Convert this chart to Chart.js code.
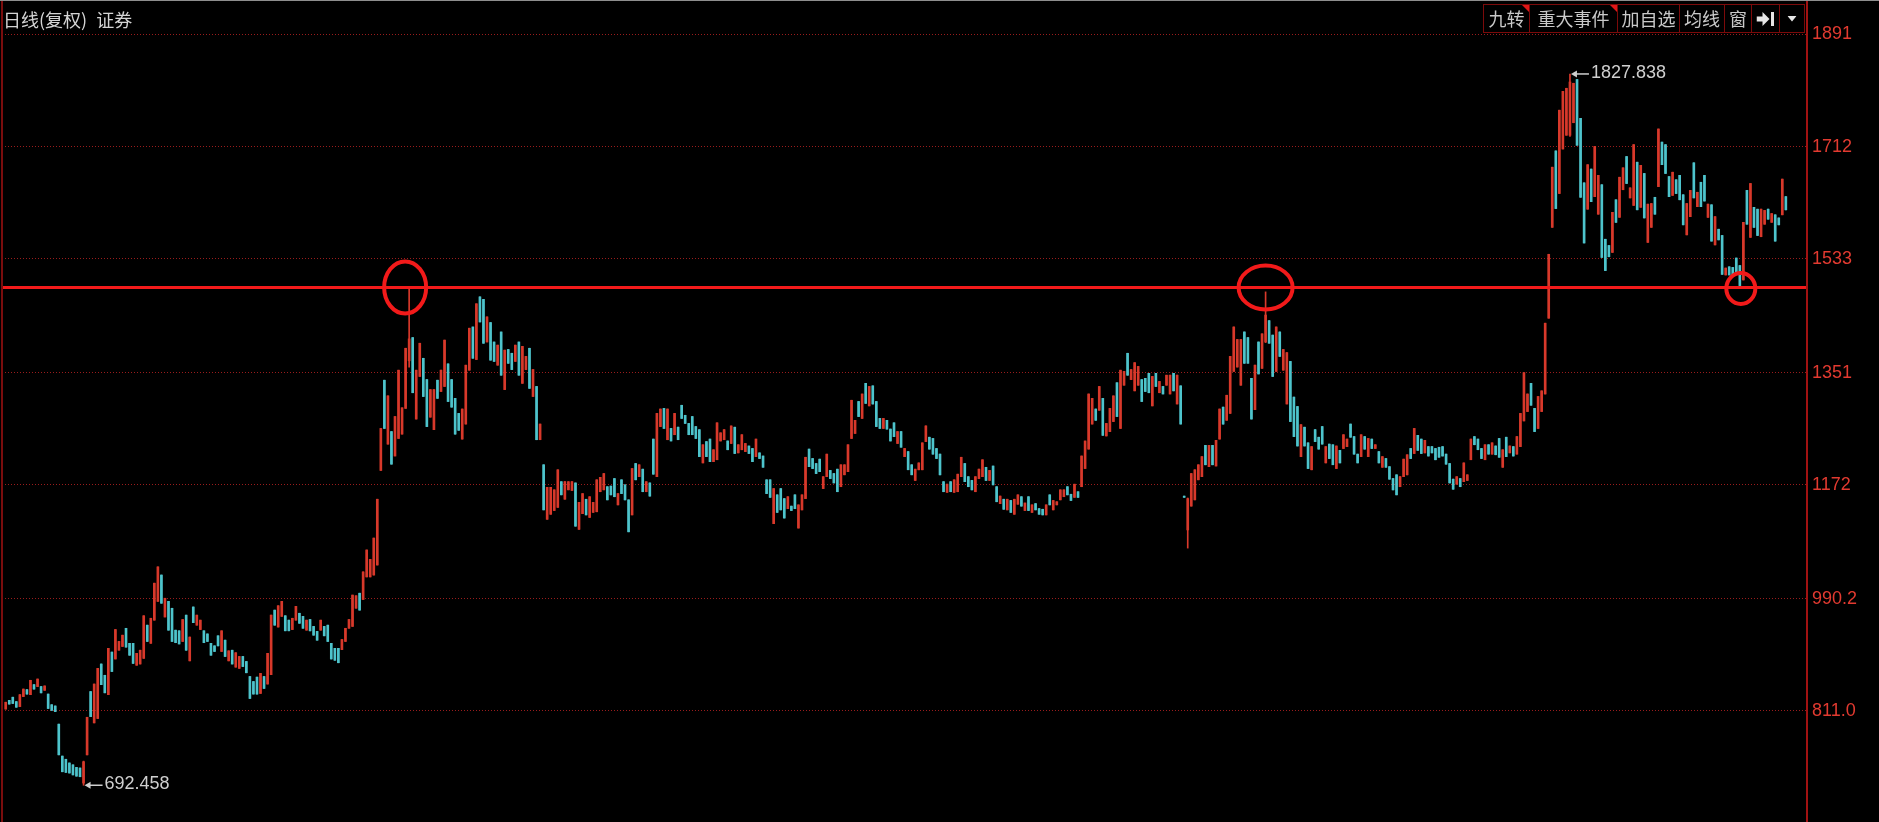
<!DOCTYPE html>
<html lang="zh-CN">
<head>
<meta charset="utf-8">
<title>日线(复权) 证券</title>
<script src="https://cdn.jsdelivr.net/npm/chart.js@4.4.1/dist/chart.umd.min.js"></script>
<style>
html,body{margin:0;padding:0;background:#000;overflow:hidden;}
#wrap{position:relative;width:1879px;height:822px;background:#000;}
#c{position:absolute;left:0;top:0;}
#topline{position:absolute;left:0;top:0;width:1879px;height:1px;background:#8e8e8e;}
#title{position:absolute;left:3px;top:9px;font:18px/20px "Noto Sans CJK SC",sans-serif;color:#d4d4d4;white-space:nowrap;}
#title .sec{margin-left:9px;}
#toolbar{position:absolute;left:1483px;top:4px;height:27px;display:flex;border:1px solid #7c0a0a;}
.btn{position:relative;height:27px;border-right:1px solid #7c0a0a;color:#c9c9c9;font:18px/27px "Noto Sans CJK SC",sans-serif;text-align:center;box-sizing:border-box;}
.btn:last-child{border-right:none;}
.flag::after{content:"";position:absolute;right:0;top:0;border-top:7px solid #e01818;border-left:7px solid transparent;}
.btn svg{position:absolute;left:50%;top:50%;transform:translate(-50%,-50%);}
</style>
</head>
<body>
<div id="wrap">
  <canvas id="c" width="1879" height="822"></canvas>
  <div id="topline"></div>
  <div id="title">日线(复权)<span class="sec">证券</span></div>
  <div id="toolbar">
    <div class="btn flag" style="width:46px">九转</div>
    <div class="btn flag" style="width:88px">重大事件</div>
    <div class="btn" style="width:62px">加自选</div>
    <div class="btn" style="width:45px">均线</div>
    <div class="btn" style="width:27px">窗</div>
    <div class="btn" style="width:28px"><svg width="19" height="14" viewBox="0 0 19 14"><rect x="0" y="4.5" width="7" height="5" fill="#e6e6e6"/><polygon points="6,0 13,7 6,14" fill="#e6e6e6"/><rect x="14.5" y="0" width="3" height="14" fill="#e6e6e6"/></svg></div>
    <div class="btn" style="width:24px"><svg width="9" height="6" viewBox="0 0 9 6"><polygon points="0,0 9,0 4.5,5.5" fill="#e6e6e6"/></svg></div>
  </div>
</div>
<script>
// ---- data, one entry per trading day ----
const openP = [
814,828,833,826,818,834,845,837,853,850,
850,844,838,821,819,790,739,734,728,725,
721,720,696,741,842,792,799,886,868,837,
905,894,908,914,943,919,919,884,886,895,
948,919,956,986,1028,961,986,975,940,939,
922,964,891,977,948,941,939,934,919,915,
931,906,924,891,908,881,879,898,890,866,
858,865,839,866,854,869,972,945,962,963,
956,941,956,967,962,940,957,946,938,940,
946,948,919,911,911,909,922,943,946,975,
999,989,1025,1025,1028,1044,1195,1339,1237,1257,
1218,1246,1253,1294,1370,1407,1277,1345,1374,1340,
1280,1260,1339,1321,1329,1365,1340,1310,1286,1245,
1269,1355,1424,1372,1472,1468,1400,1431,1400,1363,
1416,1324,1388,1382,1369,1400,1334,1356,1390,1313,
1329,1244,1204,1117,1125,1131,1136,1177,1149,1164,
1163,1175,1101,1126,1149,1120,1128,1129,1161,1164,
1169,1170,1182,1140,1180,1172,1148,1124,1206,1185,
1197,1161,1175,1245,1185,1265,1294,1244,1262,1252,
1264,1299,1283,1270,1281,1265,1260,1207,1241,1245,
1209,1212,1242,1244,1242,1238,1264,1223,1228,1225,
1234,1230,1217,1223,1218,1180,1180,1110,1156,1166,
1150,1134,1138,1156,1103,1132,1150,1229,1214,1206,
1213,1166,1185,1195,1190,1197,1169,1188,1193,1246,
1254,1305,1278,1334,1298,1330,1305,1278,1262,1275,
1261,1271,1238,1257,1217,1225,1204,1179,1196,1196,
1241,1248,1246,1230,1221,1177,1160,1177,1160,1161,
1185,1206,1185,1179,1161,1182,1185,1200,1179,1202,
1169,1142,1149,1132,1147,1125,1141,1153,1131,1153,
1128,1142,1134,1133,1124,1156,1132,1140,1148,1153,
1169,1157,1152,1161,1169,1198,1229,1269,1293,1291,
1310,1250,1257,1273,1335,1262,1331,1382,1340,1322,
1331,1340,1342,1350,1298,1350,1319,1329,1331,1317,
1350,1301,1330,1154,1100,1138,1148,1180,1185,1235,
1201,1235,1202,1245,1296,1275,1286,1353,1360,1331,
1416,1407,1342,1292,1400,1358,1400,1434,1411,1353,
1416,1355,1301,1369,1312,1297,1217,1264,1239,1196,
1260,1248,1265,1207,1237,1236,1198,1227,1230,1233,
1269,1249,1221,1217,1249,1217,1245,1230,1225,1200,
1214,1201,1182,1188,1169,1185,1188,1230,1222,1251,
1245,1223,1233,1233,1230,1232,1233,1221,1206,1181,
1173,1182,1177,1179,1212,1249,1245,1230,1212,1236,
1221,1234,1246,1200,1248,1223,1233,1221,1233,1274,
1289,1334,1294,1262,1289,1317,1438,1583,1705,1637,
1708,1730,1730,1750,1819,1757,1654,1612,1676,1632,
1604,1651,1564,1554,1543,1627,1599,1643,1696,1630,
1618,1687,1615,1669,1559,1583,1631,1648,1719,1715,
1664,1634,1659,1666,1635,1571,1600,1686,1616,1655,
1666,1599,1619,1555,1580,1570,1507,1520,1519,1534,
1522,1499,1642,1567,1615,1612,1568,1588,1612,1591,
1603,1598,1603,1632
];
const closeP = [
825,822,823,817,837,846,838,860,846,862,
840,851,815,812,810,741,714,713,712,709,
707,706,730,801,802,854,879,853,840,911,
874,941,922,932,913,900,887,903,908,963,
922,959,1015,1041,983,991,940,922,920,918,
957,908,929,952,964,956,920,922,900,906,
915,939,898,907,886,904,898,882,872,831,
838,838,871,847,903,964,948,979,986,939,
939,959,978,951,943,956,939,932,924,956,
931,922,894,892,888,925,943,957,996,995,
972,1033,1068,1053,1087,1149,1262,1262,1314,1205,
1281,1355,1295,1390,1405,1319,1355,1398,1313,1265,
1324,1324,1310,1355,1403,1305,1296,1253,1259,1293,
1363,1422,1374,1461,1432,1398,1440,1371,1369,1395,
1347,1387,1366,1356,1395,1347,1393,1377,1326,1356,
1244,1269,1132,1168,1168,1164,1196,1156,1177,1177,
1177,1106,1144,1158,1124,1153,1144,1180,1184,1190,
1148,1156,1153,1158,1158,1148,1097,1198,1180,1204,
1161,1177,1154,1189,1286,1293,1262,1293,1242,1286,
1244,1278,1270,1252,1252,1246,1217,1236,1217,1209,
1228,1271,1255,1260,1228,1266,1222,1236,1252,1238,
1222,1209,1245,1214,1200,1158,1152,1166,1128,1132,
1119,1153,1131,1134,1140,1156,1216,1201,1198,1190,
1193,1185,1221,1182,1175,1161,1204,1204,1236,1307,
1275,1281,1317,1302,1329,1301,1265,1262,1278,1261,
1242,1249,1257,1232,1230,1196,1188,1197,1207,1239,
1266,1229,1221,1214,1188,1161,1173,1161,1180,1189,
1216,1177,1169,1164,1185,1197,1212,1179,1195,1172,
1145,1154,1133,1149,1128,1149,1156,1138,1143,1131,
1140,1132,1125,1124,1140,1140,1147,1145,1164,1164,
1156,1147,1173,1152,1218,1242,1317,1310,1275,1329,
1251,1270,1294,1314,1281,1355,1353,1347,1356,1367,
1361,1305,1321,1319,1345,1329,1337,1317,1347,1347,
1322,1347,1269,1152,1150,1190,1196,1204,1217,1204,
1235,1204,1243,1293,1269,1315,1377,1424,1404,1404,
1366,1366,1277,1363,1349,1413,1443,1398,1345,1424,
1377,1388,1383,1273,1249,1234,1268,1234,1198,1233,
1241,1229,1237,1233,1214,1204,1234,1207,1252,1245,
1248,1221,1207,1252,1229,1246,1230,1236,1207,1217,
1200,1181,1164,1156,1185,1213,1220,1214,1262,1227,
1222,1243,1218,1223,1212,1216,1218,1205,1175,1165,
1185,1169,1207,1188,1245,1236,1228,1214,1236,1221,
1239,1220,1216,1228,1217,1234,1218,1249,1286,1351,
1317,1299,1257,1313,1322,1430,1540,1679,1613,1770,
1800,1805,1815,1813,1714,1631,1558,1683,1624,1712,
1666,1535,1514,1536,1607,1591,1663,1678,1653,1646,
1715,1611,1682,1598,1620,1621,1604,1740,1683,1669,
1632,1671,1637,1627,1587,1621,1642,1630,1639,1616,
1625,1620,1561,1600,1563,1508,1518,1507,1507,1508,
1490,1591,1588,1653,1583,1570,1612,1610,1596,1605,
1561,1587,1660,1611
];
const highP = [
825,828,833,826,837,846,845,860,853,862,
850,851,838,821,819,790,739,734,728,725,
721,720,731,801,842,854,879,886,868,911,
905,941,922,932,943,919,919,903,908,963,
948,959,1015,1041,1028,991,986,975,940,939,
957,964,929,977,964,956,939,934,919,915,
931,939,924,907,908,904,898,898,890,866,
858,865,871,866,903,964,972,979,986,963,
956,959,978,967,962,956,957,946,938,956,
946,948,919,911,911,925,943,957,996,995,
999,1033,1068,1053,1087,1149,1262,1339,1314,1257,
1281,1355,1295,1390,1486,1407,1355,1398,1374,1340,
1324,1324,1339,1355,1403,1365,1340,1310,1286,1293,
1363,1422,1424,1461,1472,1468,1440,1431,1400,1395,
1416,1387,1388,1382,1395,1400,1393,1377,1390,1356,
1329,1269,1204,1168,1168,1164,1196,1177,1177,1177,
1177,1175,1144,1158,1149,1153,1144,1180,1184,1190,
1169,1170,1182,1158,1180,1172,1148,1198,1206,1204,
1197,1177,1175,1245,1286,1293,1294,1293,1262,1286,
1264,1299,1283,1270,1281,1265,1260,1236,1241,1245,
1228,1271,1255,1260,1242,1266,1264,1236,1252,1238,
1234,1230,1245,1223,1218,1180,1180,1166,1156,1166,
1150,1153,1138,1156,1140,1156,1216,1229,1214,1206,
1213,1185,1221,1195,1190,1197,1204,1204,1236,1307,
1275,1305,1317,1334,1329,1330,1305,1278,1278,1275,
1261,1271,1257,1257,1230,1225,1204,1197,1207,1239,
1266,1248,1246,1230,1221,1177,1173,1177,1180,1189,
1216,1206,1185,1179,1185,1197,1212,1200,1195,1202,
1169,1154,1149,1149,1147,1149,1156,1153,1143,1153,
1140,1142,1134,1133,1140,1156,1147,1145,1164,1164,
1169,1157,1173,1161,1218,1242,1317,1310,1293,1329,
1310,1270,1294,1314,1335,1355,1353,1382,1356,1367,
1361,1340,1342,1350,1345,1350,1337,1329,1347,1347,
1350,1347,1330,1154,1151,1190,1196,1204,1217,1235,
1235,1235,1243,1293,1296,1315,1377,1424,1404,1404,
1416,1407,1342,1363,1400,1413,1480,1434,1411,1424,
1416,1388,1383,1369,1312,1297,1268,1264,1239,1233,
1260,1248,1265,1233,1237,1236,1234,1227,1252,1245,
1269,1249,1221,1252,1249,1246,1245,1236,1225,1217,
1214,1201,1182,1188,1185,1213,1220,1230,1262,1251,
1245,1243,1233,1233,1230,1232,1233,1221,1206,1181,
1185,1182,1207,1188,1245,1249,1245,1230,1236,1236,
1239,1234,1246,1228,1248,1234,1233,1249,1286,1351,
1317,1334,1294,1313,1322,1430,1540,1679,1705,1770,
1800,1805,1827.838,1813,1819,1757,1654,1683,1676,1712,
1666,1651,1564,1554,1607,1627,1663,1678,1696,1646,
1715,1687,1682,1669,1620,1621,1631,1740,1719,1715,
1664,1671,1659,1666,1635,1621,1642,1686,1639,1655,
1666,1620,1619,1600,1580,1570,1518,1520,1519,1534,
1522,1591,1642,1653,1615,1612,1612,1610,1612,1605,
1603,1598,1660,1632
];
const lowP = [
814,822,823,817,818,834,838,837,846,850,
840,844,815,812,810,741,714,713,712,709,
707,706,692.458,741,802,792,799,853,840,837,
874,894,908,914,913,900,887,884,886,895,
922,919,956,986,983,961,940,922,920,918,
922,908,891,952,948,941,920,922,900,906,
915,906,898,891,886,881,879,882,872,831,
838,838,839,847,854,869,948,945,962,939,
939,941,956,951,943,940,939,932,924,940,
931,922,894,892,888,909,922,943,946,975,
972,989,1025,1025,1028,1044,1195,1262,1237,1205,
1218,1246,1253,1294,1360,1319,1277,1345,1313,1265,
1280,1260,1310,1321,1329,1305,1296,1253,1259,1245,
1269,1355,1374,1372,1432,1398,1400,1371,1369,1363,
1347,1324,1366,1356,1369,1347,1334,1356,1326,1313,
1244,1244,1132,1117,1125,1131,1136,1156,1149,1164,
1163,1106,1101,1126,1124,1120,1128,1129,1161,1164,
1148,1156,1153,1140,1158,1148,1097,1124,1180,1185,
1161,1161,1154,1189,1185,1265,1262,1244,1242,1252,
1244,1278,1270,1252,1252,1246,1217,1207,1217,1209,
1209,1212,1242,1244,1228,1238,1222,1223,1228,1225,
1222,1209,1217,1214,1200,1158,1152,1110,1128,1132,
1119,1134,1131,1134,1103,1132,1150,1201,1198,1190,
1193,1166,1185,1182,1175,1161,1169,1188,1193,1246,
1254,1281,1278,1302,1298,1301,1265,1262,1262,1261,
1242,1249,1238,1232,1217,1196,1188,1179,1196,1196,
1241,1229,1221,1214,1188,1161,1160,1161,1160,1161,
1185,1177,1169,1164,1161,1182,1185,1179,1179,1172,
1145,1142,1133,1132,1128,1125,1141,1138,1131,1131,
1128,1132,1125,1124,1124,1140,1132,1140,1148,1153,
1156,1147,1152,1152,1169,1198,1229,1269,1275,1291,
1251,1250,1257,1273,1281,1262,1331,1347,1340,1322,
1331,1305,1321,1319,1298,1329,1319,1317,1331,1317,
1322,1301,1269,1152,1071,1138,1148,1180,1185,1204,
1201,1204,1202,1245,1269,1275,1286,1353,1360,1331,
1366,1366,1277,1292,1349,1358,1399,1398,1345,1353,
1377,1355,1301,1273,1249,1234,1217,1234,1198,1196,
1241,1229,1237,1207,1214,1204,1198,1207,1230,1233,
1248,1221,1207,1217,1229,1217,1230,1230,1207,1200,
1200,1181,1164,1156,1169,1185,1188,1214,1222,1227,
1222,1223,1218,1223,1212,1216,1218,1205,1175,1165,
1173,1169,1177,1179,1212,1236,1228,1214,1212,1221,
1221,1220,1216,1200,1217,1223,1218,1221,1233,1274,
1289,1299,1257,1262,1289,1317,1438,1583,1613,1637,
1708,1730,1728,1750,1714,1631,1558,1612,1624,1632,
1604,1535,1514,1536,1543,1591,1599,1643,1653,1630,
1618,1611,1615,1598,1559,1583,1604,1648,1683,1669,
1632,1634,1637,1627,1587,1571,1600,1630,1616,1616,
1625,1599,1561,1555,1563,1508,1507,1507,1507,1508,
1488,1499,1588,1567,1583,1570,1568,1588,1596,1591,
1561,1587,1603,1611
];
const tickValues = [811.0, 990.2, 1172, 1351, 1533, 1712, 1891];
const tickLabels = ['811.0', '990.2', '1172', '1351', '1533', '1712', '1891'];
const supportLevel = 1487;          // hand-drawn horizontal line
const markedCandles = [114, 356, 490]; // candles circled in red

if ([closeP, highP, lowP].some(a => a.length !== openP.length)) {
  throw new Error('length mismatch ' + [openP.length, closeP.length, highP.length, lowP.length].join(','));
}

// ---- styles / layout ----
const UP = '#d8392b', DOWN = '#4ec4cc';
const X_MIN = -1.045, X_MAX = 508.98, Y_MIN = 633.8, Y_MAX = 1945.9;
const ringStyle = [
  {dx: -4, dy: 0, rx: 21, ry: 26},
  {dx: 0, dy: 0, rx: 27, ry: 22},
  {dx: 1, dy: 1, rx: 14.5, ry: 15.5}
];

const colors = openP.map((o, i) => closeP[i] > o ? UP : DOWN);
const bodyData = openP.map((o, i) => ({x: i, y: [o, closeP[i]]}));
const wickData = lowP.map((l, i) => ({x: i, y: [l, highP[i]]}));

let maxI = 0, minI = 0;
highP.forEach((h, i) => { if (h > highP[maxI]) maxI = i; });
lowP.forEach((l, i) => { if (l < lowP[minI]) minI = i; });

const overlay = {
  id: 'overlay',
  beforeDraw(chart) {
    const {ctx, width, height} = chart;
    ctx.save();
    ctx.fillStyle = '#000';
    ctx.fillRect(0, 0, width, height);
    ctx.restore();
  },
  afterDatasetsDraw(chart) {
    const {ctx, chartArea: a, scales: {x, y}, height} = chart;
    ctx.save();
    // support line
    const ly = y.getPixelForValue(supportLevel);
    ctx.strokeStyle = '#f21a1a';
    ctx.lineWidth = 3;
    ctx.beginPath();
    ctx.moveTo(a.left, ly);
    ctx.lineTo(a.right, ly);
    ctx.stroke();
    // red rings
    ctx.lineWidth = 4;
    markedCandles.forEach((idx, k) => {
      const s = ringStyle[k];
      ctx.beginPath();
      ctx.ellipse(x.getPixelForValue(idx) + s.dx, ly + s.dy, s.rx, s.ry, 0, 0, Math.PI * 2);
      ctx.stroke();
    });
    // extreme labels
    const drawMark = (idx, val) => {
      const px = x.getPixelForValue(idx), py = y.getPixelForValue(val);
      ctx.strokeStyle = '#cfcfcf';
      ctx.fillStyle = '#cfcfcf';
      ctx.lineWidth = 1.5;
      ctx.beginPath();
      ctx.moveTo(px + 5, py);
      ctx.lineTo(px + 19, py);
      ctx.stroke();
      ctx.beginPath();
      ctx.moveTo(px + 1, py);
      ctx.lineTo(px + 7, py - 3.5);
      ctx.lineTo(px + 7, py + 3.5);
      ctx.closePath();
      ctx.fill();
      ctx.font = '18px "Liberation Sans", Arial, sans-serif';
      ctx.textBaseline = 'middle';
      ctx.textAlign = 'left';
      ctx.fillText(val.toFixed(3), px + 21, py - 1);
    };
    drawMark(maxI, highP[maxI]);
    drawMark(minI, lowP[minI]);
    // frame lines
    ctx.fillStyle = '#7a0d0d';
    ctx.fillRect(1, 0, 2, height);
    ctx.fillStyle = '#a11212';
    ctx.fillRect(a.right - 1, 0, 2, height);
    ctx.restore();
  }
};

new Chart(document.getElementById('c'), {
  type: 'bar',
  data: {
    datasets: [
      {data: wickData, backgroundColor: colors, barThickness: 1, grouped: false, borderWidth: 0, minBarLength: 1},
      {data: bodyData, backgroundColor: colors, barThickness: 2, grouped: false, borderWidth: 0, minBarLength: 1}
    ]
  },
  options: {
    responsive: false,
    maintainAspectRatio: false,
    animation: false,
    devicePixelRatio: 1,
    layout: {padding: {left: 2, right: 0, top: 0, bottom: 0}},
    plugins: {legend: {display: false}, tooltip: {enabled: false}},
    scales: {
      x: {type: 'linear', display: false, min: X_MIN, max: X_MAX, offset: false, grid: {display: false}},
      y: {
        position: 'right',
        min: Y_MIN,
        max: Y_MAX,
        afterBuildTicks: s => { s.ticks = tickValues.map(v => ({value: v})); },
        afterFit: s => { s.width = 72; s.paddingTop = 0; s.paddingBottom = 0; },
        ticks: {
          color: '#e23a30',
          font: {family: '"Liberation Sans", Arial, sans-serif', size: 18},
          padding: 5,
          callback: (v, i) => tickLabels[i]
        },
        grid: {color: '#9a1c1c', lineWidth: 1, drawTicks: false, drawOnChartArea: true},
        border: {display: false, dash: [1, 2]}
      }
    }
  },
  plugins: [overlay]
});
</script>
</body>
</html>
